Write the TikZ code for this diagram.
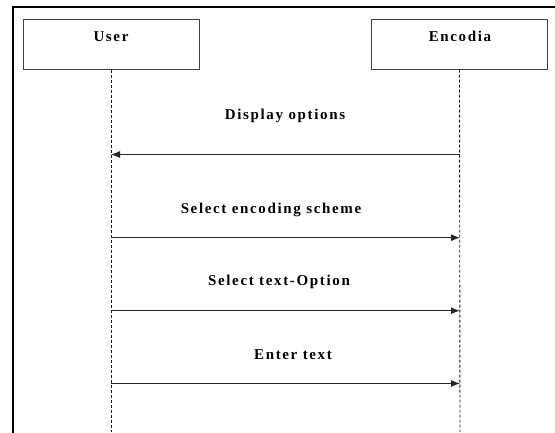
\documentclass[tikz,border=0pt]{standalone}
\usepackage{fontspec}
\setmainfont{Liberation Serif}[LetterSpace=11]
\usetikzlibrary{arrows.meta}
\begin{document}
\begin{tikzpicture}[x=1pt,y=-1pt,
  lbl/.style={font=\bfseries\fontsize{15}{17}\selectfont, inner sep=0pt, text=black},
  actor/.style={draw=black!75, line width=1pt, minimum width=176pt, minimum height=50pt, inner sep=0pt},
  life/.style={draw=black!90, line width=0.9pt, dash pattern=on 3pt off 2pt},
  msg/.style={draw=black!85, line width=1.1pt, -{Latex[length=9pt,width=7pt]}},
  frame/.style={draw=black, line width=2.4pt}]
\useasboundingbox (0,0) rectangle (555,432);
\draw[frame] (13,440) -- (13,7) -- (560,7);
\node[actor] (user) at (111,44) {};
\node[actor] (enc) at (459.5,44) {};
\node[lbl, anchor=base] (userlbl) at (111,41) {User};
\node[lbl, anchor=base] (enclbl) at (460,41) {Encodia};
\coordinate (userbot) at (111,432);
\coordinate (encbot) at (460,432);
\draw[life] (user.south) -- (userbot);
\draw[life] (enc.south) -- (encbot);
% messages
\coordinate (e1) at (460,154.5); \coordinate (u1) at (111,154.5);
\coordinate (u2) at (111,237.7); \coordinate (e2) at (460,237.7);
\coordinate (u3) at (111,310.7); \coordinate (e3) at (460,310.7);
\coordinate (u4) at (111,383.5); \coordinate (e4) at (460,383.5);
\draw[msg] (e1) -- (u1);
\draw[msg] (u2) -- (e2);
\draw[msg] (u3) -- (e3);
\draw[msg] (u4) -- (e4);
\node[lbl] (m1) at (285,116) {Display options};
\node[lbl] (m2) at (271,210) {Select encoding scheme};
\node[lbl] (m3) at (279,282) {Select text-Option};
\node[lbl] (m4) at (293,355) {Enter text};
\end{tikzpicture}
\end{document}
